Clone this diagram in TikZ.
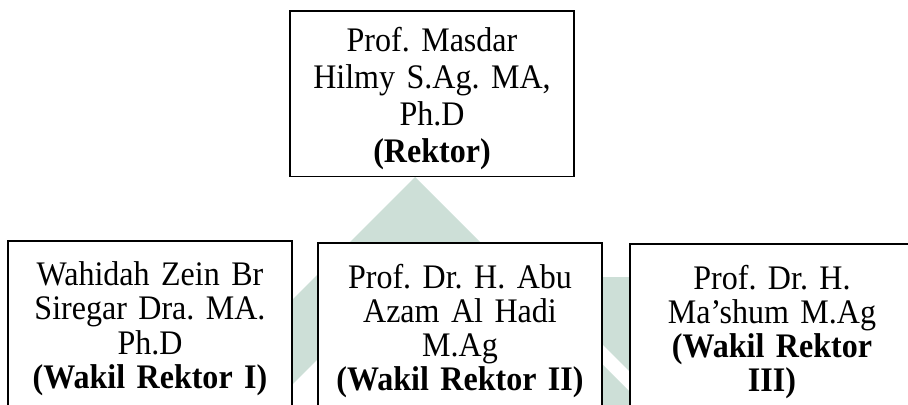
\documentclass[tikz,border=0pt]{standalone}
\usepackage{fontspec}
\setmainfont{Liberation Serif}[FakeStretch=0.93]
\frenchspacing
\definecolor{logo}{RGB}{205,223,215}
\tikzset{
  jabatan/.style={draw, line width=1pt, fill=white, inner xsep=0pt, inner ysep=12pt,
    align=center, font=\fontsize{19.6}{19.4}\selectfont},
}
\begin{document}
\begin{tikzpicture}[x=0.02cm,y=-0.02cm]
\useasboundingbox (0,0) rectangle (908,405);
\clip (0,0) rectangle (908,405);

% logo in the background
\fill[logo] (415,177) -- (85,507) -- (745,507) -- cycle;
\fill[white] (415,262) -- (170,507) -- (660,507) -- cycle;
\fill[logo] (535,277) -- (830,277) -- (830,572) -- cycle;

\node[jabatan, text width=5.68cm, anchor=north, inner ysep=9.5pt, text depth=2.16cm,
  font=\fontsize{19.6}{21}\selectfont] (rektor) at (432,10)
  {Prof. Masdar\\ Hilmy S.Ag. MA,\\ Ph.D\\ \textbf{(Rektor)}};

\node[jabatan, text width=5.68cm, anchor=north, text depth=4cm] (wr1) at (150,240)
  {Wahidah Zein Br\\ Siregar Dra. MA.\\ Ph.D\\ \textbf{(Wakil Rektor I)}};
\node[jabatan, text width=5.68cm, anchor=north, text depth=4cm] (wr2) at (460,242)
  {Prof. Dr. H. Abu\\ Azam Al Hadi\\ M.Ag\\ \textbf{(Wakil Rektor II)}};
\node[jabatan, text width=5.68cm, anchor=north, text depth=4cm] (wr3) at (772,243)
  {Prof. Dr. H.\\ Ma’shum M.Ag\\ \textbf{(Wakil Rektor\\ III)}};

\end{tikzpicture}
\end{document}
